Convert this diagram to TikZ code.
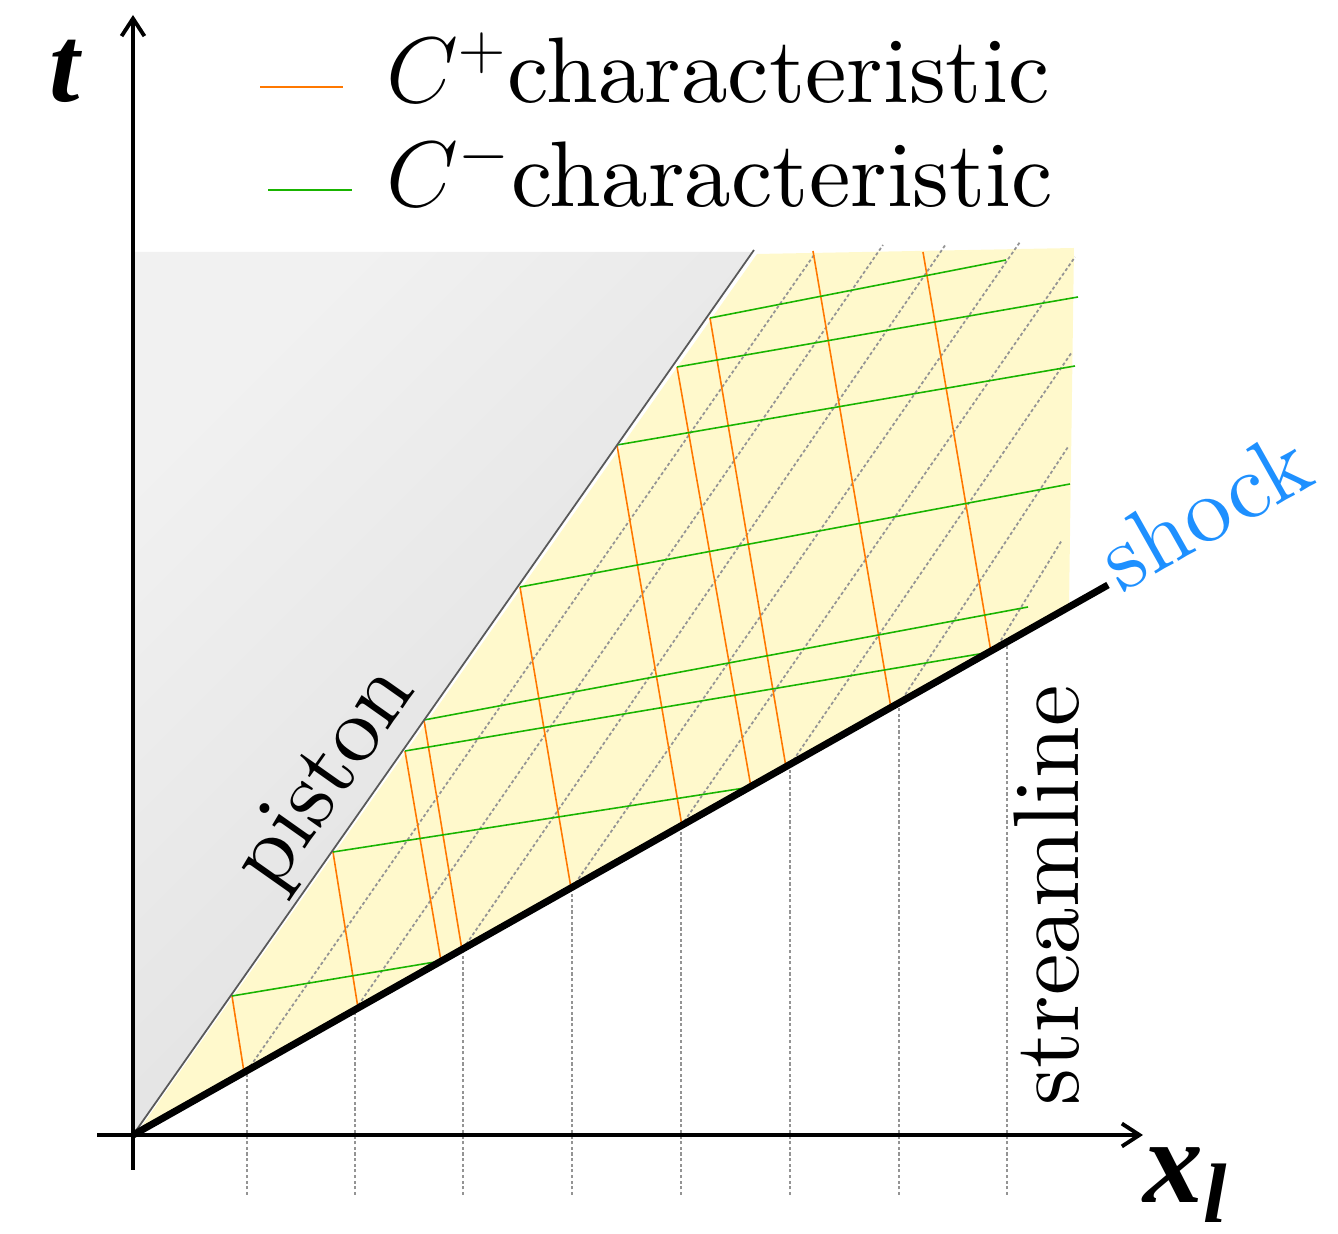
\RequirePackage{fix-cm}
\documentclass[tikz,border=0pt]{standalone}
\usepackage{fontspec}
\newfontfamily\tmsfont{Liberation Serif}
\newfontfamily\lmten{lmroman10-regular.otf}
\usetikzlibrary{arrows.meta}
\definecolor{corange}{RGB}{255,120,0}
\definecolor{cgreen}{RGB}{25,180,0}
\definecolor{cblue}{RGB}{30,144,255}
\definecolor{cyellow}{RGB}{255,249,204}
\definecolor{cgrayA}{RGB}{241,241,241}
\definecolor{cgrayB}{RGB}{221,221,221}
\tikzset{
  cplus/.style={corange, line width=0.45pt},
  cminus/.style={cgreen, line width=0.45pt},
  sline/.style={black!42, line width=0.5pt, dash pattern=on 0.9pt off 0.7pt},
  axisline/.style={line width=1.1pt, -{Straight Barb[length=5pt,width=6.5pt]}},
  lbl/.style={font=\lmten\fontsize{26.5}{30}\selectfont, inner sep=0pt},
}
\begin{document}
\begin{tikzpicture}[x=0.01cm, y=-0.01cm]
\path[use as bounding box] (0,0) rectangle (1338,1234);
% main points
\coordinate (O) at (133,1135);
\coordinate (PT) at (754,250);
\coordinate (SE) at (1108,585);
\coordinate (XS) at (97,1135);
\coordinate (XE) at (1143,1135);
\coordinate (TS) at (133,1170);
\coordinate (TE) at (133,15);
% regions
\shade[top color=cgrayA, bottom color=cgrayB, shading angle=45]
  (135,1133) -- (753,252) -- (135,252) -- cycle;
\fill[cyellow] (135.5,1135) -- (757,254) -- (1074,248) -- (1069,608) -- cycle;
% streamlines
\foreach \i/\xs/\ys/\xd/\yd/\xe/\ye in {
  1/247/1071/247/1071/814/255,
  2/355/1010/355/1010/883/245,
  3/463/949/463/949/946/244,
  4/572/888/572/888/1020/242,
  5/681/826/681/826/1075/257,
  6/790/765/790/765/1072/352,
  7/899/704/899/704/1068/447,
  8/1007/643/995/650/1062/540}{
  \coordinate (vb\i) at (\xs,1195);
  \coordinate (vt\i) at (\xs,\ys);
  \coordinate (ds\i) at (\xd,\yd);
  \coordinate (de\i) at (\xe,\ye);
  \draw[sline] (vb\i) -- (vt\i);
  \draw[sline] (ds\i) -- (de\i);
}
% piston points
\coordinate (P1) at (232,996);
\coordinate (P2) at (333,852);
\coordinate (P3) at (405,751);
\coordinate (P4) at (424,720);
\coordinate (P5) at (520,587);
\coordinate (P6) at (617,445);
\coordinate (P7) at (677,367);
\coordinate (P8) at (710,318);
\coordinate (T1) at (813,251);
\coordinate (T2) at (923,252);
% shock points
\coordinate (S1) at (244,1072);
\coordinate (S2) at (358,1008);
\coordinate (S3) at (441,961);
\coordinate (S4) at (462,950);
\coordinate (S5) at (571,888);
\coordinate (S6) at (682,826);
\coordinate (S7) at (751,787);
\coordinate (S8) at (786,767);
\coordinate (S9) at (891,708);
\coordinate (S10) at (991,652);
% free ends of C- lines
\coordinate (E4) at (1028,607);
\coordinate (E5) at (1070,484);
\coordinate (E6) at (1075,366);
\coordinate (E7) at (1078,297);
\coordinate (E8) at (1006,260);
% C+ characteristics
\foreach \a/\b in {P1/S1,P2/S2,P3/S3,P4/S4,P5/S5,P6/S6,P7/S7,P8/S8,T1/S9,T2/S10}
  \draw[cplus] (\a) -- (\b);
% C- characteristics
\foreach \a/\b in {P1/S3,P2/S7,P3/S10,P4/E4,P5/E5,P6/E6,P7/E7,P8/E8}
  \draw[cminus] (\a) -- (\b);
% piston and shock
\draw[black!65, line width=0.5pt] (O) -- (PT);
\draw[line width=2pt] (O) -- (SE);
% axes
\draw[axisline] (XS) -- (XE);
\draw[axisline] (TS) -- (TE);
% labels
\node (tlab) [anchor=base, inner sep=0pt, font=\tmsfont\bfseries\itshape\fontsize{31}{31}\selectfont] at (65,102) {t};
\node (xlab) [anchor=base west, inner sep=0pt, font=\tmsfont\bfseries\itshape\fontsize{34}{34}\selectfont] at (1143,1203) {x\raisebox{-5.6pt}{\fontsize{24}{24}\selectfont l}};
\node (piston) [lbl, anchor=base, rotate=54.8] at (345,792) {piston};
\node (shock) [lbl, anchor=base, rotate=29.4, text=cblue] at (1220,538) {shock};
\node (stream) [lbl, anchor=base, rotate=90] at (1078,895) {streamline};
% legend
\coordinate (L1a) at (260,87);
\coordinate (L1b) at (343,87);
\coordinate (L2a) at (268,190);
\coordinate (L2b) at (352,190);
\draw[cplus] (L1a) -- (L1b);
\draw[cminus] (L2a) -- (L2b);
\node (leg1) [lbl, anchor=base west] at (386,103) {$C^+$characteristic};
\node (leg2) [lbl, anchor=base west] at (386,207) {$C^-$characteristic};
\end{tikzpicture}
\end{document}
